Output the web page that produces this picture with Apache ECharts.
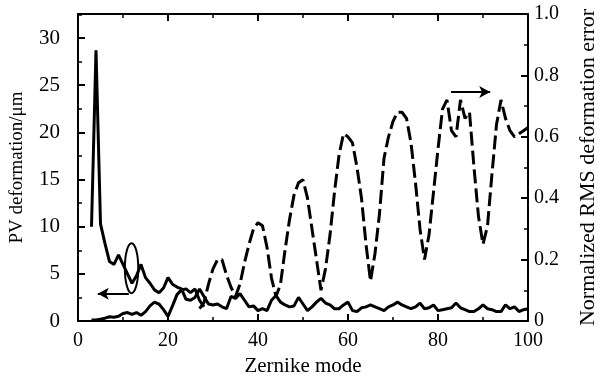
<!DOCTYPE html>
<html>
<head>
<meta charset="utf-8">
<script src="https://cdn.jsdelivr.net/npm/echarts@6/dist/echarts.min.js"></script>
<style>
  html, body {margin:0;padding:0;background:#fff;}
  #chart {width:607px;height:382px;}
</style>
</head>
<body>
<div id="chart"></div>
<script>
// PV deformation (left axis), modes 3..100
var pvStart = 3;
var pvMain = [10, 28.7, 10.3, 8.2, 6.3, 6.0, 7.0, 6.0, 5.0, 4.0, 4.8, 6.0, 4.6, 4.0, 3.3, 3.0, 3.5, 4.6, 3.9, 3.6,
  3.4, 2.3, 2.2, 2.5, 3.4, 2.6, 1.8, 1.7, 1.8, 1.5, 1.3, 2.6, 2.4, 2.9, 2.2, 1.5, 1.6, 1.1, 1.3, 1.1,
  2.2, 2.7, 2.0, 1.7, 1.5, 1.6, 2.5, 1.8, 1.1, 1.5, 2.0, 2.4, 1.9, 1.7, 1.3, 1.3, 1.7, 2.0, 1.1, 1.0,
  1.4, 1.5, 1.7, 1.5, 1.3, 1.1, 1.5, 1.7, 2.0, 1.7, 1.5, 1.3, 1.5, 1.9, 1.3, 1.4, 1.7, 1.1, 1.2, 1.3,
  1.4, 1.9, 1.4, 1.2, 1.0, 1.0, 1.3, 1.7, 1.3, 1.2, 1.0, 1.0, 1.7, 1.3, 1.5, 1.0, 1.2, 1.3];
// second solid curve (left axis), modes 3..28
var lowStart = 3;
var pvLow = [0.1, 0.1, 0.2, 0.3, 0.45, 0.4, 0.5, 0.8, 0.9, 0.7, 0.9, 0.6, 1.0, 1.6, 2.0, 1.8, 1.2, 0.5, 1.6, 2.8,
  3.3, 3.4, 3.0, 3.4, 2.2, 1.5];
// normalized RMS deformation error (right axis), modes 27..100
var rmsStart = 27;
var rmsErr = [0.04, 0.06, 0.12, 0.17, 0.2, 0.2, 0.15, 0.11, 0.08, 0.12, 0.19, 0.25, 0.3, 0.32, 0.31, 0.24, 0.14, 0.08, 0.12, 0.23,
  0.33, 0.41, 0.45, 0.46, 0.4, 0.3, 0.2, 0.1, 0.17, 0.28, 0.42, 0.54, 0.61, 0.6, 0.58, 0.5, 0.4, 0.25, 0.13, 0.22,
  0.35, 0.53, 0.6, 0.65, 0.68, 0.68, 0.66, 0.58, 0.45, 0.3, 0.2, 0.28, 0.42, 0.56, 0.69, 0.72, 0.62, 0.6, 0.72, 0.66,
  0.68, 0.5, 0.34, 0.25, 0.31, 0.48, 0.64, 0.72, 0.66, 0.62, 0.6, 0.61, 0.62, 0.63];

// annotations (data coords)
var ellipseAt = [11.9, 5.6];
var leftArrow = [[11.3, 2.9], [4.4, 2.9]];
var rightArrow = [[82.9, 0.746], [91.6, 0.746]];

function pairs(start, arr) {
  return arr.map(function (v, i) { return [start + i, v]; });
}

var font = 'Liberation Serif';
var chart = echarts.init(document.getElementById('chart'));

var axisCommon = {
  axisLine: {show: true, onZero: false, lineStyle: {color: '#000', width: 2}},
  axisTick: {show: true, inside: true, length: 7, lineStyle: {color: '#000', width: 2}},
  minorTick: {show: true, splitNumber: 2, length: 4, lineStyle: {color: '#000', width: 1.5}},
  splitLine: {show: false},
  axisLabel: {color: '#000', fontFamily: font, fontSize: 20},
  nameTextStyle: {color: '#000', fontFamily: font, fontSize: 19}
};

var option = {
  animation: false,
  backgroundColor: '#fff',
  grid: {left: 77, right: 76, top: 14, bottom: 61},
  xAxis: [
    Object.assign({}, axisCommon, {
      type: 'value', min: 0, max: 100, interval: 20, position: 'bottom',
      name: 'Zernike mode', nameLocation: 'middle', nameGap: 34,
      nameTextStyle: {color: '#000', fontFamily: font, fontSize: 21},
      axisLabel: Object.assign({}, axisCommon.axisLabel, {margin: 10})
    }),
    Object.assign({}, axisCommon, {
      type: 'value', min: 0, max: 100, interval: 20, position: 'top',
      axisLabel: {show: false}
    })
  ],
  yAxis: [
    Object.assign({}, axisCommon, {
      type: 'value', min: 0, max: 32.55, interval: 5, position: 'left',
      name: 'PV deformation/μm', nameLocation: 'middle', nameGap: 51, nameRotate: 90,
      axisLabel: Object.assign({}, axisCommon.axisLabel, {margin: 18, fontSize: 21, showMaxLabel: false})
    }),
    Object.assign({}, axisCommon, {
      type: 'value', min: 0, max: 1.0, interval: 0.2, position: 'right',
      name: 'Normalized RMS deformation error', nameLocation: 'middle', nameGap: 49, nameRotate: 90,
      nameTextStyle: {color: '#000', fontFamily: font, fontSize: 22},
      axisLabel: Object.assign({}, axisCommon.axisLabel, {
        margin: 6,
        formatter: function (v) { return v === 0 ? '0' : v.toFixed(1); }
      })
    })
  ],
  series: [
    {
      type: 'line', xAxisIndex: 0, yAxisIndex: 0,
      data: pairs(pvStart, pvMain),
      showSymbol: false, symbol: 'none',
      lineStyle: {color: '#000', width: 3},
      markLine: {
        silent: true, symbol: ['none', 'arrow'], symbolSize: [9, 11],
        label: {show: false},
        lineStyle: {color: '#000', width: 2, type: 'solid'},
        data: [[{coord: leftArrow[0]}, {coord: leftArrow[1]}]]
      }
    },
    {
      type: 'line', xAxisIndex: 0, yAxisIndex: 0,
      data: pairs(lowStart, pvLow),
      showSymbol: false, symbol: 'none',
      lineStyle: {color: '#000', width: 3}
    },
    {
      type: 'line', xAxisIndex: 0, yAxisIndex: 1,
      data: pairs(rmsStart, rmsErr),
      showSymbol: false, symbol: 'none',
      lineStyle: {color: '#000', width: 3, type: [14, 5]},
      markLine: {
        silent: true, symbol: ['none', 'arrow'], symbolSize: [9, 11],
        label: {show: false},
        lineStyle: {color: '#000', width: 2, type: 'solid'},
        data: [[{coord: rightArrow[0]}, {coord: rightArrow[1]}]]
      }
    }
  ]
};
chart.setOption(option);

// ellipse marking the PV curve
var c = chart.convertToPixel({xAxisIndex: 0, yAxisIndex: 0}, ellipseAt);
chart.setOption({
  graphic: [{
    type: 'ellipse', silent: true,
    shape: {cx: c[0], cy: c[1], rx: 6.7, ry: 25},
    style: {fill: 'none', stroke: '#000', lineWidth: 2}
  }]
});
</script>
</body>
</html>
